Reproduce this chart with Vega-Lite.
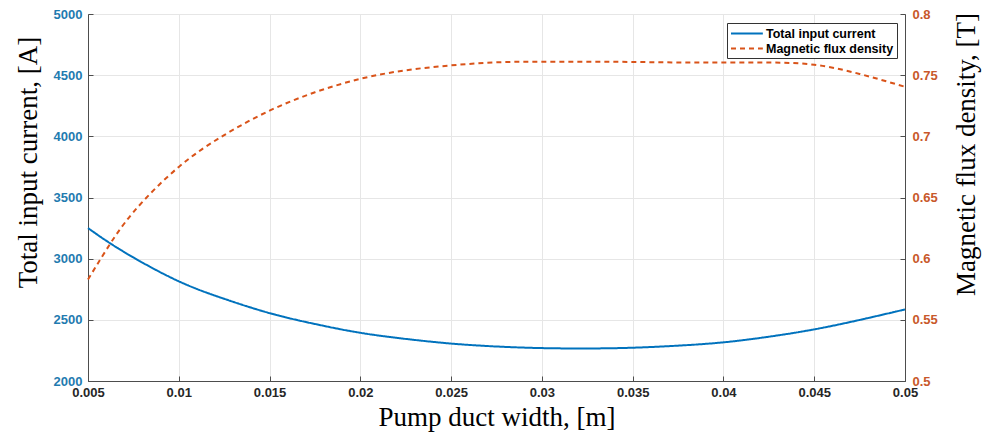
{
  "$schema": "https://vega.github.io/schema/vega-lite/v6.json",
  "width": 817,
  "height": 367,
  "autosize": "none",
  "padding": {"left": 88, "top": 14, "right": 77, "bottom": 57},
  "background": "white",
  "config": {
    "view": {"stroke": "#4d4d4d", "strokeWidth": 1},
    "axis": {
      "domainColor": "#4d4d4d",
      "tickColor": "#4d4d4d",
      "gridColor": "#e6e6e6",
      "labelFont": "Liberation Sans",
      "labelFontWeight": "bold",
      "labelFontSize": 13,
      "titleFont": "Liberation Serif",
      "titleFontWeight": "normal",
      "titleFontSize": 27,
      "titleColor": "black",
      "tickSize": -5
    },
    "legend": {
      "orient": "none",
      "legendX": 639,
      "legendY": 9,
      "strokeColor": "#333333",
      "fillColor": "white",
      "padding": 3,
      "symbolType": "M-1,0H3.9",
      "symbolSize": 169,
      "symbolStrokeWidth": 2,
      "symbolOffset": 0,
      "labelFont": "Liberation Sans",
      "labelFontWeight": "bold",
      "labelFontSize": 12.5,
      "labelColor": "black",
      "labelOffset": 21,
      "rowPadding": 1
    }
  },
  "data": {
    "values": [
      {"w": 0.005, "s": "Total input current", "v": 3250},
      {"w": 0.006, "s": "Total input current", "v": 3147},
      {"w": 0.0075, "s": "Total input current", "v": 3010},
      {"w": 0.01, "s": "Total input current", "v": 2815},
      {"w": 0.0125, "s": "Total input current", "v": 2672},
      {"w": 0.015, "s": "Total input current", "v": 2555},
      {"w": 0.0175, "s": "Total input current", "v": 2466},
      {"w": 0.02, "s": "Total input current", "v": 2394},
      {"w": 0.0225, "s": "Total input current", "v": 2344},
      {"w": 0.025, "s": "Total input current", "v": 2306},
      {"w": 0.0275, "s": "Total input current", "v": 2282},
      {"w": 0.03, "s": "Total input current", "v": 2269},
      {"w": 0.0325, "s": "Total input current", "v": 2266},
      {"w": 0.035, "s": "Total input current", "v": 2272},
      {"w": 0.0375, "s": "Total input current", "v": 2289},
      {"w": 0.04, "s": "Total input current", "v": 2316},
      {"w": 0.0425, "s": "Total input current", "v": 2362},
      {"w": 0.045, "s": "Total input current", "v": 2422},
      {"w": 0.0475, "s": "Total input current", "v": 2499},
      {"w": 0.05, "s": "Total input current", "v": 2585},
      {"w": 0.005, "s": "Magnetic flux density", "v": 0.583},
      {"w": 0.006, "s": "Magnetic flux density", "v": 0.607},
      {"w": 0.0075, "s": "Magnetic flux density", "v": 0.638},
      {"w": 0.01, "s": "Magnetic flux density", "v": 0.675},
      {"w": 0.0125, "s": "Magnetic flux density", "v": 0.701},
      {"w": 0.015, "s": "Magnetic flux density", "v": 0.721},
      {"w": 0.0175, "s": "Magnetic flux density", "v": 0.736},
      {"w": 0.02, "s": "Magnetic flux density", "v": 0.747},
      {"w": 0.0225, "s": "Magnetic flux density", "v": 0.754},
      {"w": 0.025, "s": "Magnetic flux density", "v": 0.758},
      {"w": 0.0275, "s": "Magnetic flux density", "v": 0.7605},
      {"w": 0.03, "s": "Magnetic flux density", "v": 0.761},
      {"w": 0.0325, "s": "Magnetic flux density", "v": 0.761},
      {"w": 0.035, "s": "Magnetic flux density", "v": 0.7608},
      {"w": 0.0375, "s": "Magnetic flux density", "v": 0.7604},
      {"w": 0.04, "s": "Magnetic flux density", "v": 0.7603},
      {"w": 0.0425, "s": "Magnetic flux density", "v": 0.7603},
      {"w": 0.045, "s": "Magnetic flux density", "v": 0.7585},
      {"w": 0.0475, "s": "Magnetic flux density", "v": 0.751},
      {"w": 0.05, "s": "Magnetic flux density", "v": 0.7405}
    ]
  },
  "encoding": {
    "x": {
      "field": "w",
      "type": "quantitative",
      "scale": {"domain": [0.005, 0.05], "nice": false, "zero": false},
      "axis": {
        "values": [0.005, 0.01, 0.015, 0.02, 0.025, 0.03, 0.035, 0.04, 0.045, 0.05],
        "format": ".3~f",
        "labelColor": "#262626",
        "labelPadding": 10,
        "labelFlush": false,
        "title": "Pump duct width, [m]",
        "titleBaseline": "alphabetic",
        "titleY": 44
      }
    },
    "color": {
      "field": "s",
      "type": "nominal",
      "scale": {
        "domain": ["Total input current", "Magnetic flux density"],
        "range": ["#0072BD", "#D95319"]
      },
      "legend": {"title": null}
    },
    "strokeDash": {
      "field": "s",
      "type": "nominal",
      "scale": {
        "domain": ["Total input current", "Magnetic flux density"],
        "range": [[1, 0], [5, 4]]
      },
      "legend": {"title": null}
    }
  },
  "layer": [
    {
      "transform": [{"filter": "datum.s === 'Total input current'"}],
      "mark": {"type": "line", "strokeWidth": 2, "interpolate": "natural"},
      "encoding": {
        "y": {
          "field": "v",
          "type": "quantitative",
          "scale": {"domain": [2000, 5000], "nice": false, "zero": false},
          "axis": {
            "orient": "left",
            "values": [2000, 2500, 3000, 3500, 4000, 4500, 5000],
            "format": "d",
            "labelColor": "#1f7bb0",
            "labelPadding": 11,
            "grid": true,
            "title": "Total input current, [A]",
            "titleAngle": -90,
            "titleBaseline": "alphabetic",
            "titleAlign": "center",
            "titleX": -52,
            "titleY": 148
          }
        }
      }
    },
    {
      "transform": [{"filter": "datum.s === 'Magnetic flux density'"}],
      "mark": {"type": "line", "strokeWidth": 2, "interpolate": "natural"},
      "encoding": {
        "y": {
          "field": "v",
          "type": "quantitative",
          "scale": {"domain": [0.5, 0.8], "nice": false, "zero": false},
          "axis": {
            "orient": "right",
            "values": [0.5, 0.55, 0.6, 0.65, 0.7, 0.75, 0.8],
            "format": ".2~f",
            "labelColor": "#c8582a",
            "labelPadding": 12,
            "grid": false,
            "title": "Magnetic flux density, [T]",
            "titleAngle": -90,
            "titleBaseline": "alphabetic",
            "titleAlign": "center",
            "titleX": 69,
            "titleY": 140
          }
        }
      }
    }
  ],
  "resolve": {"scale": {"y": "independent"}}
}
